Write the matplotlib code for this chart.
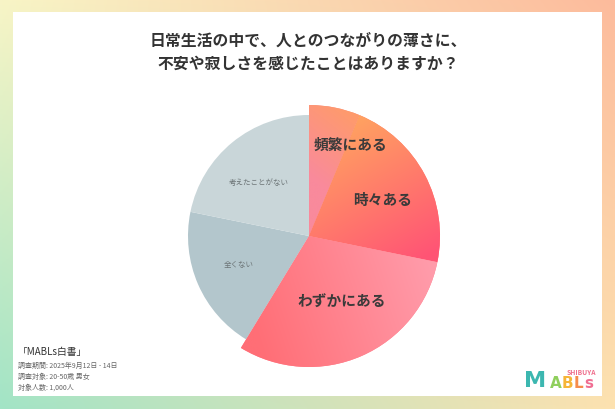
import numpy as np
import matplotlib
matplotlib.use("Agg")
import matplotlib.pyplot as plt
from matplotlib.patches import Rectangle
from matplotlib.colors import to_rgb

plt.rcParams['font.family'] = ['Noto Sans CJK JP', 'DejaVu Sans']

# survey answers (share of respondents, %)
categories = ["頻繁にある", "時々ある", "わずかにある", "全くない", "考えたことがない"]
shares = [6.3, 21.9, 30.5, 19.5, 21.8]
title_lines = ["日常生活の中で、人とのつながりの薄さに、", "不安や寂しさを感じたことはありますか？"]
notes = ["調査期間: 2025年9月12日 - 14日", "調査対象: 20-50歳 男女", "対象人数: 1,000人"]

W, H = 615, 410


def corner_gradient(tl, tr, bl, br, n=200):
    tl, tr, bl, br = [np.array(to_rgb(c)) for c in (tl, tr, bl, br)]
    u = np.linspace(0, 1, n)[None, :, None]
    v = np.linspace(0, 1, n)[:, None, None]
    top = tl * (1 - u) + tr * u
    bot = bl * (1 - u) + br * u
    return top * (1 - v) + bot * v


def linear_fill(ax, patch, p0, p1, c0, c1, n=300):
    # paint a linear gradient from p0 to p1 clipped to the patch
    ext = patch.get_path().get_extents(patch.get_patch_transform())
    x = np.linspace(ext.x0, ext.x1, n)
    y = np.linspace(ext.y0, ext.y1, n)
    X, Y = np.meshgrid(x, y)
    d = np.array(p1) - np.array(p0)
    t = ((X - p0[0]) * d[0] + (Y - p0[1]) * d[1]) / (d @ d)
    t = np.clip(t, 0, 1)[..., None]
    img = np.array(to_rgb(c0)) * (1 - t) + np.array(to_rgb(c1)) * t
    im = ax.imshow(img, extent=(ext.x0, ext.x1, ext.y0, ext.y1), origin='lower',
                   zorder=3, interpolation='bilinear')
    im.set_clip_path(patch)


fig = plt.figure(figsize=(6.15, 4.1), dpi=100)
ax = fig.add_axes([0, 0, 1, 1])
ax.set_xlim(0, W)
ax.set_ylim(0, H)
ax.axis('off')

# frame background and white card
ax.imshow(corner_gradient('#f8f5c6', '#fdbb9c', '#a2e4c6', '#fde2b0'),
          extent=(0, W, 0, H), origin='upper', zorder=0, aspect='auto')
ax.add_patch(Rectangle((13, H - 397), 589, 384, facecolor='white', edgecolor='none', zorder=1))

# title
for i, line in enumerate(title_lines):
    ax.text(308, H - 41 - i * 23, line, ha='center', va='center', fontsize=11.4,
            fontweight='bold', color='#333333', zorder=5)

# pie
cx, cy = 309, H - 237
wedges, _ = ax.pie(shares, startangle=90, counterclock=False, radius=121,
                   center=(cx, cy), frame=True,
                   colors=['#fb8f86', '#ff7a6c', '#ff8090', '#b3c6cc', '#c9d6d9'],
                   wedgeprops=dict(linewidth=0, zorder=2))
ax.set_xlim(0, W)
ax.set_ylim(0, H)
ax.set_aspect('equal')
ax.axis('off')

for w in wedges[:3]:
    w.set_radius(131)

# gradients on the highlighted answers
linear_fill(ax, wedges[0], (cx, cy + 60), (cx + 50, cy + 125), '#f98a9c', '#ff9c68')
linear_fill(ax, wedges[1], (cx + 40, cy + 120), (cx + 120, cy - 20), '#ffa560', '#ff5475')
linear_fill(ax, wedges[2], (cx - 60, cy - 80), (cx + 120, cy - 20), '#ff6e76', '#ff9cab')

# labels
label_pos = [(351, 145), (383, 200), (342, 302), (239, 265), (259, 183)]
label_size = [10.6, 10.6, 10.6, 5.4, 5.4]
label_col = ['#3a3a3a', '#3a3a3a', '#3a3a3a', '#6c7476', '#6c7476']
label_wt = ['bold', 'bold', 'bold', 'normal', 'normal']
for name, (lx, ly), fs, c, wt in zip(categories, label_pos, label_size, label_col, label_wt):
    ax.text(lx, H - ly, name, ha='center', va='center', fontsize=fs,
            fontweight=wt, color=c, zorder=6)

# footnote
ax.text(18, H - 352, "「MABLs白書」", ha='left', va='center', fontsize=7, color='#333333', zorder=5)
for i, s in enumerate(notes):
    ax.text(18, H - 366 - i * 11, s, ha='left', va='center', fontsize=5,
            color='#666666', zorder=5)

# logo
ax.text(581, H - 373, "SHIBUYA", ha='center', va='center', fontsize=4.8,
        fontweight='bold', color='#ef6f8c', zorder=5)
ax.text(524, H - 381, "M", ha='left', va='center', fontsize=16, fontweight='heavy',
        color='#3cb7b0', family='DejaVu Sans', zorder=5)
lx = 550
for ch, c in zip("ABLs", ['#8fcf5c', '#f6b437', '#f68c4c', '#f06e92']):
    ax.text(lx, H - 384, ch, ha='left', va='center', fontsize=11,
            fontweight='heavy', color=c, family='DejaVu Sans', zorder=5)
    lx += {'A': 12, 'B': 12, 'L': 10, 's': 9}[ch]

fig.savefig("out.png", dpi=100)
